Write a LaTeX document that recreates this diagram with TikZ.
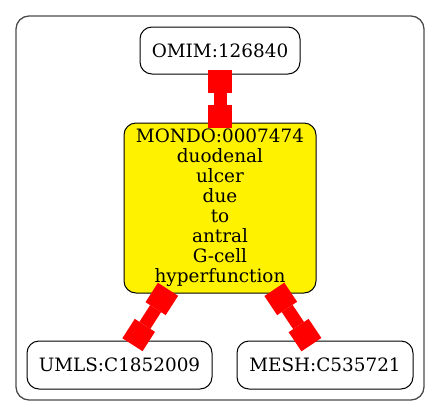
\documentclass[tikz,border=0pt]{standalone}
\usepackage{fontspec}
\setmainfont{DejaVu Serif}
\usetikzlibrary{arrows.meta}
\tikzset{
  box/.style={draw=black, line width=1pt, rounded corners=12pt, inner sep=0pt,
    font=\fontsize{18.4}{20}\selectfont, align=center},
  link/.style={draw=red, line width=13pt,
    {Rectangle[length=23pt,width=24pt,line width=0pt]}-{Rectangle[length=23pt,width=24pt,line width=0pt]},
    shorten <=-5pt, shorten >=-5pt},
  cluster/.style={draw=black!70, line width=1.3pt, rounded corners=13pt}
}
\begin{document}
\begin{tikzpicture}[x=1pt,y=1pt]
\useasboundingbox (0,0) rectangle (440,-416);
\draw[cluster] (16,-16) rectangle (424,-400);
\node[box, minimum width=160pt, minimum height=47pt] (omim) at (220,-50.5) {OMIM:126840};
\node[box, fill=yellow, minimum width=192pt, minimum height=170pt] (mondo) at (220,-208)
  {MONDO:0007474\\duodenal\\ulcer\\due\\to\\antral\\G-cell\\hyperfunction};
\node[box, minimum width=185pt, minimum height=48pt] (umls) at (119.5,-365) {UMLS:C1852009};
\node[box, minimum width=176pt, minimum height=48pt] (mesh) at (325,-365) {MESH:C535721};
\draw[link] (omim) -- (mondo);
\draw[link] (mondo) -- (umls);
\draw[link] (mondo) -- (mesh);
\end{tikzpicture}
\end{document}
